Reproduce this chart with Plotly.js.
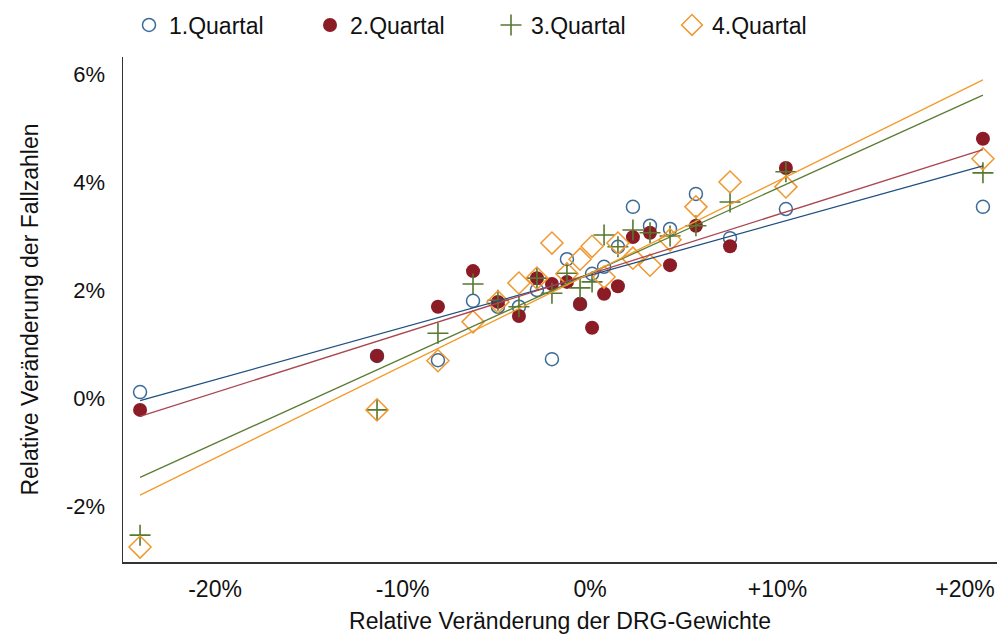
<!DOCTYPE html>
<html>
<head>
<meta charset="utf-8">
<script src="https://cdn.plot.ly/plotly-3.0.1.min.js"></script>
<style>html,body{margin:0;padding:0;background:#fff}#chart{width:1000px;height:634px}</style>
</head>
<body>
<div id="chart"></div>
<script>
// Relative change of DRG weights (%), shared by all quarters
const drgChange = [-24.0, -11.36, -8.11, -6.24, -4.91, -3.79, -2.83, -2.03, -1.23, -0.53,
                   0.11, 0.75, 1.49, 2.29, 3.20, 4.27, 5.65, 7.47, 10.45, 20.96];
// Relative change of case numbers (%) per quarter
const q1 = [0.11, 0.78, 0.70, 1.80, 1.69, 1.69, 2.00, 0.72, 2.57, 1.74,
            2.30, 2.43, 2.80, 3.54, 3.19, 3.13, 3.78, 2.96, 3.50, 3.54];
const q2 = [-0.22, 0.78, 1.69, 2.35, 1.78, 1.52, 2.22, 2.11, 2.15, 1.74,
            1.30, 1.93, 2.07, 2.98, 3.06, 2.46, 3.19, 2.81, 4.26, 4.80];
const q3 = [-2.54, -0.22, 1.20, 2.11, 1.81, 1.69, 2.22, 1.94, 2.31, 2.04,
            2.15, 3.02, 2.80, 3.11, 3.06, 3.00, 3.19, 3.63, 4.19, 4.17];
const q4 = [-2.76, -0.22, 0.69, 1.41, 1.78, 2.13, 2.22, 2.87, 2.30, 2.57,
            2.81, 2.24, 2.87, 2.59, 2.46, 2.93, 3.54, 4.00, 3.91, 4.43];
const seriesNames = ["1.Quartal", "2.Quartal", "3.Quartal", "4.Quartal"];
// Fitted line values at the smallest and largest DRG change
const fitAtMin = [-0.05, -0.34, -1.47, -1.80];
const fitAtMax = [4.30, 4.60, 5.61, 5.89];
// Axis ticks
const xTickVals = [-20, -10, 0, 10, 20];
const xTickText = ["-20%", "-10%", "0%", "+10%", "+20%"];
const yTickVals = [-2, 0, 2, 4, 6];
const yTickText = ["-2%", "0%", "2%", "4%", "6%"];

const ys = [q1, q2, q3, q4];
const markerStyles = [
  {symbol: "circle-open", size: 13, color: "#3b6b98", line: {width: 1.5, color: "#3b6b98"}},
  {symbol: "circle", size: 14, color: "#8b1c26", line: {width: 0}},
  {symbol: "cross-thin-open", size: 15, color: "#56782f", line: {width: 1.6, color: "#56782f"}},
  {symbol: "diamond-open", size: 17, color: "#f0972e", line: {width: 1.5, color: "#f0972e"}}
];
const lineColors = ["#1f4f80", "#a9464f", "#5c7c34", "#f39a2a"];

const xMin = Math.min(...drgChange), xMax = Math.max(...drgChange);
const traces = [];
for (let i = 0; i < 4; i++) {
  traces.push({
    type: "scatter", mode: "markers", name: seriesNames[i],
    x: drgChange, y: ys[i], marker: markerStyles[i], cliponaxis: false
  });
}
for (let i = 0; i < 4; i++) {
  traces.push({
    type: "scatter", mode: "lines", showlegend: false, hoverinfo: "skip",
    x: [xMin, xMax], y: [fitAtMin[i], fitAtMax[i]],
    line: {color: lineColors[i], width: 1.3}
  });
}

const font = "Liberation Sans, Arial, sans-serif";
const layout = {
  width: 1000, height: 634,
  margin: {l: 123, r: 3, t: 57, b: 72},
  paper_bgcolor: "#fff", plot_bgcolor: "#fff",
  font: {family: font, color: "#111", size: 22},
  showlegend: true,
  legend: {
    orientation: "h", xref: "container", yref: "container",
    x: 0.129, xanchor: "left", y: 1 - 25/634, yanchor: "middle",
    font: {size: 23, family: font, color: "#111"},
    entrywidth: 136, entrywidthmode: "pixels", itemclick: false
  },
  xaxis: {
    range: [-24.91, 21.71], showgrid: false, zeroline: false,
    showline: true, linecolor: "#333", linewidth: 1.5, mirror: false,
    tickvals: xTickVals, ticktext: xTickText, ticks: "outside",
    ticklen: 6, tickcolor: "rgba(0,0,0,0)", tickfont: {size: 23},
    title: {text: "Relative Veränderung der DRG-Gewichte", font: {size: 23}, standoff: 13}
  },
  yaxis: {
    range: [-3.037, 6.315], showgrid: false, zeroline: false,
    showline: true, linecolor: "#333", linewidth: 1.5,
    tickvals: yTickVals, ticktext: yTickText, ticks: "outside",
    ticklen: 12, tickcolor: "rgba(0,0,0,0)", tickfont: {size: 22},
    title: {text: "Relative Veränderung der Fallzahlen", font: {size: 23}, standoff: 21}
  }
};
Plotly.newPlot("chart", traces, layout, {staticPlot: true, displayModeBar: false});
</script>
</body>
</html>
